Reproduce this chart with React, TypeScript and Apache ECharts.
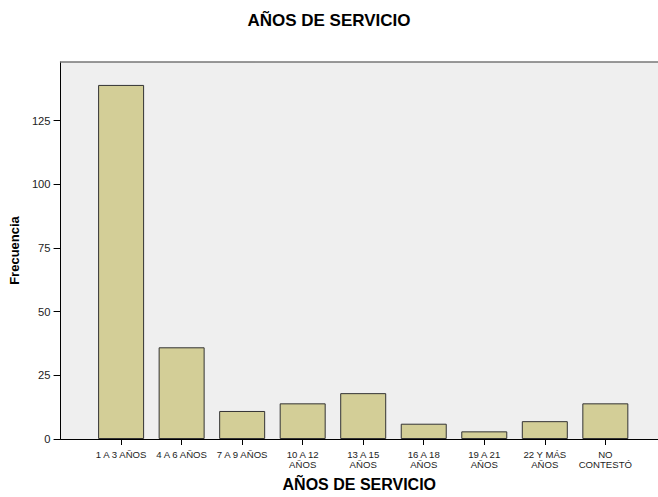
import React, { useEffect, useRef } from "react";
import * as echarts from "echarts";

const categories = [
  "1 A 3 AÑOS",
  "4 A 6 AÑOS",
  "7 A 9 AÑOS",
  "10 A 12\nAÑOS",
  "13 A 15\nAÑOS",
  "16 A 18\nAÑOS",
  "19 A 21\nAÑOS",
  "22 Y MÁS\nAÑOS",
  "NO\nCONTESTÓ",
];
const frequencies = [139, 36, 11, 14, 18, 6, 3, 7, 14];
const yTicks = [0, 25, 50, 75, 100, 125];

const FONT = "'Liberation Sans', Arial, sans-serif";

export default function App() {
  const ref = useRef<HTMLDivElement>(null);
  useEffect(() => {
    if (!ref.current) return;
    const chart = echarts.init(ref.current, undefined, { renderer: "svg" });
    const positions = categories.map((_, i) => i + 1);
    const option: any = {
      animation: false,
      backgroundColor: "#ffffff",
      textStyle: { fontFamily: FONT },
      title: {
        text: "AÑOS DE SERVICIO",
        left: "center",
        top: 7,
        textStyle: { fontFamily: FONT, fontSize: 17, fontWeight: "bold", color: "#000" },
      },
      grid: {
        left: 58,
        top: 62,
        right: 0,
        bottom: 56,
        show: true,
        backgroundColor: "#efefef",
        borderWidth: 0,
      },
      xAxis: [
        {
          type: "value",
          min: 0,
          max: 9.87,
          interval: 1,
          splitLine: { show: false },
          axisLine: { show: true, lineStyle: { color: "#000", width: 1 } },
          axisTick: { show: true, length: 6, customValues: positions, lineStyle: { color: "#000" } },
          axisLabel: {
            customValues: positions,
            formatter: (v: number) => categories[Math.round(v) - 1] ?? "",
            fontFamily: FONT,
            fontSize: 9.6,
            lineHeight: 10,
            color: "#222",
            margin: 10,
          },
          name: "AÑOS DE SERVICIO",
          nameLocation: "middle",
          nameGap: 37,
          nameTextStyle: { fontFamily: FONT, fontSize: 16, fontWeight: "bold", color: "#000" },
        },
        {
          type: "value",
          position: "top",
          min: 0,
          max: 9.87,
          splitLine: { show: false },
          axisLine: { show: true, lineStyle: { color: "#777", width: 1.5 } },
          axisTick: { show: false },
          axisLabel: { show: false },
        },
      ],
      yAxis: {
        type: "value",
        min: 0,
        max: 148,
        interval: 25,
        splitLine: { show: false },
        axisLine: { show: true, lineStyle: { color: "#000", width: 1 } },
        axisTick: { show: true, length: 7, customValues: yTicks, lineStyle: { color: "#000" } },
        axisLabel: {
          customValues: yTicks,
          fontFamily: FONT,
          fontSize: 11.2,
          color: "#222",
          margin: 10,
        },
        name: "Frecuencia",
        nameLocation: "middle",
        nameGap: 36,
        nameTextStyle: { fontFamily: FONT, fontSize: 13, fontWeight: "bold", color: "#000" },
      },
      series: [
        {
          type: "bar",
          xAxisIndex: 0,
          data: frequencies.map((v, i) => [positions[i], v]),
          barWidth: 46,
          itemStyle: { color: "#d3ce97", borderColor: "#333", borderWidth: 1 },
        },
      ],
    };
    chart.setOption(option);
    return () => chart.dispose();
  }, []);
  return (
    <div
      ref={ref}
      style={{ position: "fixed", left: 0, top: 0, width: 658, height: 497 }}
    />
  );
}
